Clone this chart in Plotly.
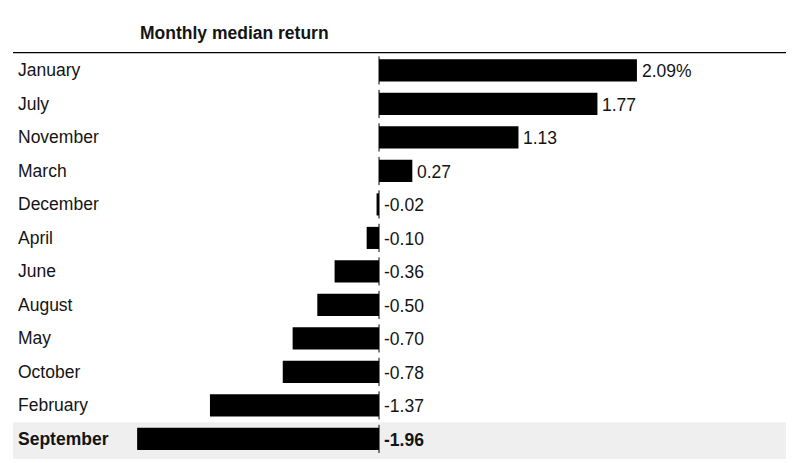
import plotly.graph_objects as go

months = ["January", "July", "November", "March", "December", "April",
          "June", "August", "May", "October", "February", "September"]
returns = [2.09, 1.77, 1.13, 0.27, -0.02, -0.10, -0.36, -0.50, -0.70, -0.78, -1.37, -1.96]
value_labels = ["2.09%", "1.77", "1.13", "0.27", "-0.02", "-0.10", "-0.36", "-0.50",
                "-0.70", "-0.78", "-1.37", "-1.96"]
highlight = "September"
title_text = "Monthly median return"

FONT = "Liberation Sans, Arial, Helvetica, sans-serif"
TXT = "#141414"
FS = 17.5

fig = go.Figure()
fig.add_trace(go.Bar(
    x=returns, y=months, orientation="h",
    marker=dict(color="#000000", line=dict(width=0)),
    width=0.66, hoverinfo="skip", showlegend=False,
))

shapes = []
annotations = []
hi = months.index(highlight)
# highlight band
shapes.append(dict(type="rect", xref="paper", yref="y", x0=0, x1=1,
                   y0=hi - 0.5, y1=hi + 0.6, fillcolor="#efefef",
                   line=dict(width=0), layer="below"))
# top rule
shapes.append(dict(type="line", xref="paper", yref="y", x0=0, x1=1,
                   y0=-0.55, y1=-0.55, line=dict(color="#000000", width=2.5)))
# zero-line segments per row
for i, m in enumerate(months):
    shapes.append(dict(type="line", xref="x", yref="y", x0=0, x1=0,
                       y0=i - 0.42, y1=i + 0.42,
                       line=dict(color="#000000", width=1), layer="above"))

for i, (m, v, lab) in enumerate(zip(months, returns, value_labels)):
    bold = (m == highlight)
    annotations.append(dict(
        xref="paper", yref="y", x=0, y=m, xanchor="left", yanchor="middle",
        xshift=3, yshift=0, showarrow=False,
        text=f"<b>{m}</b>" if bold else m,
        font=dict(family=FONT, size=FS, color=TXT)))
    annotations.append(dict(
        xref="x", yref="y", x=max(v, 0), y=m, xanchor="left", yanchor="middle",
        xshift=3, yshift=-1, showarrow=False,
        text=f"<b>{lab}</b>" if bold else lab,
        font=dict(family=FONT, size=FS, color=TXT)))

annotations.append(dict(
    xref="paper", yref="paper", x=0.1617, y=1, xanchor="left", yanchor="middle",
    yshift=19, showarrow=False, text=f"<b>{title_text}</b>",
    font=dict(family=FONT, size=FS, color=TXT)))

fig.update_layout(
    width=803, height=463,
    margin=dict(l=5, r=25, t=44, b=12),
    paper_bgcolor="#ffffff", plot_bgcolor="rgba(0,0,0,0)",
    xaxis=dict(range=[-2.966, 3.298], visible=False, fixedrange=True),
    yaxis=dict(type="category", categoryorder="array", categoryarray=months,
               range=[11.6, -0.55], visible=False, fixedrange=True),
    shapes=shapes, annotations=annotations,
    bargap=0.34,
)

fig.write_html("out.html")
